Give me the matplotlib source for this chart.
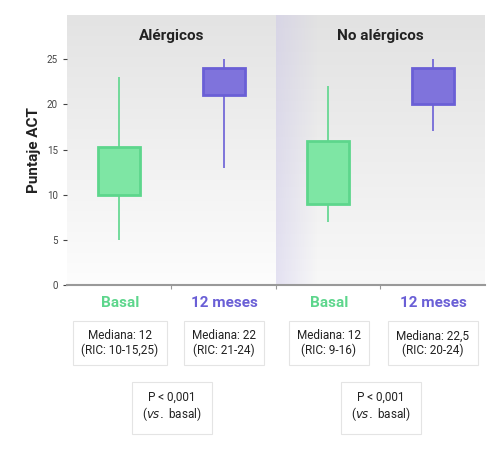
import numpy as np
import matplotlib.pyplot as plt
from matplotlib.patches import Rectangle
from matplotlib.colors import LinearSegmentedColormap

plt.rcParams['font.family'] = ['Roboto', 'DejaVu Sans']

groups = ['Alérgicos', 'No alérgicos']
cats = ['Basal', '12 meses', 'Basal', '12 meses']
low = [5, 13, 7, 17]
q1 = [10, 21, 9, 20]
q3 = [15.25, 24, 16, 24]
high = [23, 25, 22, 25]
medians = ['Mediana: 12\n(RIC: 10-15,25)', 'Mediana: 22\n(RIC: 21-24)',
           'Mediana: 12\n(RIC: 9-16)', 'Mediana: 22,5\n(RIC: 20-24)']
pvals = ['P < 0,001\n($\\it{vs.}$ basal)', 'P < 0,001\n($\\it{vs.}$ basal)']

green, green_edge = '#7ee6a4', '#5dd68c'
purple, purple_edge = '#7f73dc', '#6a5fd6'
colors = [green, purple, green, purple]
edges = [green_edge, purple_edge, green_edge, purple_edge]

fig = plt.figure(figsize=(5.02, 4.68), dpi=100)
ax = fig.add_axes([0.1335, 0.391, 0.8325, 0.577])
ax.set_xlim(-0.5, 3.5)
ax.set_ylim(0, 29.9)

bg_l = LinearSegmentedColormap.from_list('bgl', ['#e3e3e3', '#fdfdfd'])
bg_r = LinearSegmentedColormap.from_list('bgr', ['#e2e2e2', '#f8f8f8'])
grad = np.linspace(1, 0, 100).reshape(-1, 1)
ax.imshow(1 - grad, extent=[-0.5, 1.5, 0, 29.9], aspect='auto', cmap=bg_l, zorder=0)
ax.imshow(1 - grad, extent=[1.5, 3.5, 0, 29.9], aspect='auto', cmap=bg_r, zorder=0)
# soft shadow on the left edge of the second panel
shade = np.linspace(0.45, 0, 60).reshape(1, -1)
sh_cmap = LinearSegmentedColormap.from_list('sh', [(0.8, 0.78, 0.92, 0), (0.8, 0.78, 0.92, 1)])
ax.imshow(shade, extent=[1.5, 1.9, 0, 29.9], aspect='auto', cmap=sh_cmap,
          vmin=0, vmax=1, zorder=0.5)

for i in range(4):
    ax.vlines(i, low[i], high[i], color=edges[i], lw=1.2, zorder=2)
    ax.add_patch(Rectangle((i - 0.2, q1[i]), 0.4, q3[i] - q1[i], facecolor=colors[i],
                           edgecolor=edges[i], lw=2, zorder=3))

for j, g in enumerate(groups):
    ax.text(2 * j + 0.5, 27.6, g, ha='center', va='center', fontsize=11,
            fontweight='bold', color='#222222')

ax.set_yticks([0, 5, 10, 15, 20, 25])
ax.tick_params(axis='y', labelsize=7, colors='#444444', length=3)
ax.set_ylabel('Puntaje ACT', fontsize=11, fontweight='bold', color='#222222')
ax.set_xticks([0.5, 1.5, 2.5])
ax.set_xticklabels([])
ax.tick_params(axis='x', length=3, colors='#999999')
for s in ['top', 'right', 'left']:
    ax.spines[s].set_visible(False)
ax.spines['bottom'].set_color('#999999')
ax.spines['bottom'].set_linewidth(1.5)

xs = [120, 224, 329, 433]
for i in range(4):
    fig.text(xs[i] / 502, 1 - 303 / 468, cats[i], ha='center', va='center',
             fontsize=11, fontweight='bold', color=edges[i])
    fig.text(xs[i] / 502, 1 - 343 / 468, medians[i], ha='center', va='center',
             fontsize=8.5, color='#222222', linespacing=1.1,
             bbox=dict(boxstyle='square,pad=0.7', fc='white', ec='#e4e4e4', lw=0.8))
for j in range(2):
    fig.text((xs[2 * j] + xs[2 * j + 1]) / 2 / 502, 1 - 407 / 468, pvals[j],
             ha='center', va='center', fontsize=8.5, color='#222222', linespacing=1.1,
             bbox=dict(boxstyle='square,pad=0.9', fc='white', ec='#e4e4e4', lw=0.8))

fig.savefig('out.png', dpi=100)
